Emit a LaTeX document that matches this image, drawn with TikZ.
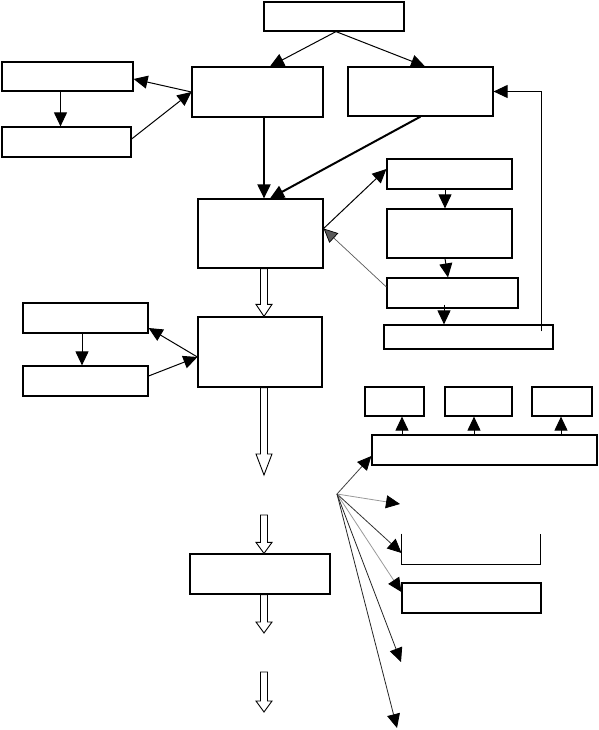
\documentclass[tikz,border=0pt]{standalone}
\usetikzlibrary{arrows.meta,calc}

% hollow block arrow from #2 down to #3, #1 = head length
\newcommand{\hollowarrow}[3][11]{%
  \draw[hollow] ($(#2)+(-3.5,0)$) -- ($(#3)+(-3.5,-#1)$) -- ($(#3)+(-8,-#1)$)
    -- (#3) -- ($(#3)+(8,-#1)$) -- ($(#3)+(3.5,-#1)$) -- ($(#2)+(3.5,0)$) -- cycle;}

\begin{document}
\begin{tikzpicture}[
            x = 1pt, y = -1pt, % pixel grid, y going down
            > = {Triangle[length=14pt,width=13pt,color=black]}, % arrow head style
            line width = 1pt, % line style
            wh/.style 2 args = {minimum width=#1pt, minimum height=#2pt}
        ]

        \tikzstyle{box}=[
            draw = black,
            line width = 1.2pt,
            fill = white,
            inner sep = 0pt
        ]
        \tikzstyle{hollow}=[
            draw = black,
            line width = 0.9pt,
            fill = white,
            line join = miter
        ]
        \tikzstyle{fanline}=[
            ->,
            line width = 0.8pt
        ]

        \useasboundingbox (0,0) rectangle (598,730);

        % top part
        \node[box, wh={140}{29}] (top) at (334,16.5) {};
        \node[box, wh={131}{29}] (l1) at (67.5,76.5) {};
        \node[box, wh={129}{30}] (l2) at (66.5,142) {};
        \node[box, wh={131}{50}] (c1) at (257.5,92) {};
        \node[box, wh={145}{49}] (r1) at (420.5,91.5) {};
        \node[box, wh={125}{69}] (c2) at (260.5,233.5) {};

        % right column
        \node[box, wh={125}{30}] (r2) at (449.5,174) {};
        \node[box, wh={125}{49}] (r3) at (449.5,233.5) {};
        \node[box, wh={131}{30}] (r4) at (452.5,293) {};
        \node[box, wh={169}{24}] (r5) at (468.5,337) {};

        % middle part
        \node[box, wh={125}{30}] (l3) at (85.5,318) {};
        \node[box, wh={125}{30}] (l4) at (85.5,381) {};
        \node[box, wh={124}{70}] (c3) at (260,352) {};
        \node[box, wh={140}{40}] (c4) at (260,574) {};

        % bottom right
        \node[box, wh={59}{29}] (s1) at (394.5,401.5) {};
        \node[box, wh={67}{29}] (s2) at (478.5,401.5) {};
        \node[box, wh={60}{29}] (s3) at (562,401.5) {};
        \node[box, wh={225}{30}] (w) at (484.5,450) {};
        \node[inner sep = 0pt, wh={138}{30}] (b1) at (471,549) {};
        \draw[line width = 1.2pt] (b1.north west) -- (b1.south west)
            -- (b1.south east) -- (b1.north east);
        \node[box, wh={139}{30}] (b2) at (471.5,598) {};

        \coordinate (fork) at ([xshift=2pt]top.south);
        \path[->] (fork) edge ([xshift=12.5pt]c1.north);
        \path[->] (fork) edge ([xshift=4.5pt]r1.north);
        \path[->] (c1.west) edge ([yshift=-2.5pt]l1.east);
        \path[->] ([yshift=3pt]l2.east) edge (c1.west);
        \path[->] ([xshift=-7pt]l1.south) edge ([xshift=-7pt]l1.south |- l2.north);
        \path[->, line width = 2pt] ([xshift=6.5pt]c1.south) edge ([xshift=6.5pt]c1.south |- c2.north);
        \path[->, line width = 2pt] (r1.south) edge ([xshift=9.5pt]c2.north);

        \coordinate (c2e) at ([yshift=5pt]c2.east);
        \path[->] (c2e) edge ([yshift=5pt]r2.west);
        \path[->, line width = 0.7pt, black!65] ([yshift=6pt]r4.west) edge (c2e);
        \path[->] ([xshift=-4.5pt]r2.south) edge ([xshift=-4.5pt]r3.north);
        \path[->] ([xshift=-4.5pt]r3.south) edge ([xshift=-4.5pt]r4.north);
        \path[->] ([xshift=-8.5pt,yshift=4pt]r4.south) edge ([xshift=-24.5pt]r5.north);
        \draw[->] ([xshift=72.5pt,yshift=-7pt]r5.north) |- (r1.east);

        \path[->] ([yshift=-5pt]c3.west) edge ([yshift=-10pt]l3.east);
        \path[->] ([yshift=5pt]l4.east) edge ([yshift=-5pt]c3.west);
        \path[->] ([xshift=-3.5pt]l3.south) edge ([xshift=-3.5pt]l4.north);

        % hollow arrows down the middle
        \coordinate (h1) at ([xshift=3.5pt]c2.south);
        \coordinate (h2) at (h1 |- c3.north);
        \coordinate (h3) at (h1 |- c3.south);
        \coordinate (h4) at (264,475);
        \coordinate (h5) at (264,515);
        \coordinate (h6) at (h5 |- c4.north);
        \coordinate (h7) at (h5 |- c4.south);
        \coordinate (h8) at (264,633);
        \coordinate (h9) at (264,672);
        \coordinate (h10) at (264,712);
        \hollowarrow[12]{h1}{h2}
        \hollowarrow[21]{h3}{h4}
        \hollowarrow[11]{h5}{h6}
        \hollowarrow[11]{h7}{h8}
        \hollowarrow[11]{h9}{h10}

        \path[->] ([xshift=7.5pt]s1.south |- w.north) edge ([xshift=7.5pt]s1.south);
        \path[->] ([xshift=-4.5pt]s2.south |- w.north) edge ([xshift=-4.5pt]s2.south);
        \path[->] ([xshift=-1pt]s3.south |- w.north) edge ([xshift=-1pt]s3.south);

        % fan of arrows
        \coordinate (fan) at (337,494);
        \coordinate (e1) at (400,504);
        \coordinate (e2) at (401,662);
        \coordinate (e3) at (397,728);
        \draw[fanline, black!75] (fan) -- ([yshift=-6pt]w.west);
        \draw[fanline, black!40] (fan) -- (e1);
        \draw[fanline, black!80] (fan) -- ([yshift=-4pt]b1.west);
        \draw[fanline, black!40] (fan) -- ([yshift=6pt]b2.west);
        \draw[fanline, black!85] (fan) -- (e2);
        \draw[fanline, black!85] (fan) -- (e3);

  \end{tikzpicture}
\end{document}
